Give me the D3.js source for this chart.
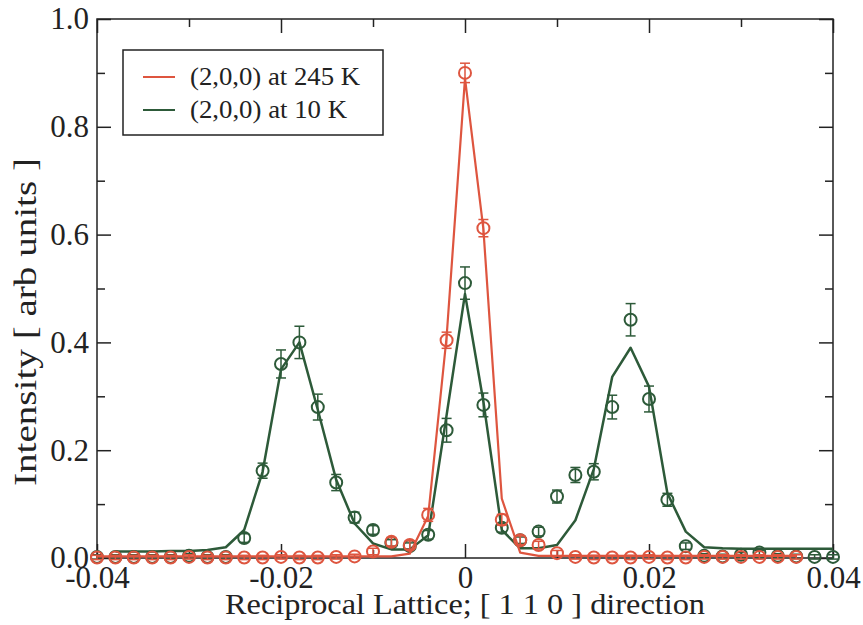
<!DOCTYPE html>
<html>
<head>
<meta charset="utf-8">
<script src="https://cdn.jsdelivr.net/npm/d3@7"></script>
<style>
  body { margin: 0; background: #fff; }
  svg { display: block; }
  text { font-family: "Liberation Serif", "Times New Roman", serif; fill: #222; }
</style>
</head>
<body>
<svg id="chart" width="863" height="625"></svg>
<script>
// Axis ticks and labels
const xMajor = [-0.04, -0.02, 0, 0.02, 0.04];
const xMajorLabels = ["-0.04", "-0.02", "0", "0.02", "0.04"];
const xMinor = [-0.03, -0.01, 0.01, 0.03];
const yMajor = [0, 0.2, 0.4, 0.6, 0.8, 1.0];
const yMajorLabels = ["0.0", "0.2", "0.4", "0.6", "0.8", "1.0"];
const yMinor = [0.1, 0.3, 0.5, 0.7, 0.9];

const seriesNames = ["(2,0,0) at 245 K", "(2,0,0) at 10 K"];
const xTitle = "Reciprocal Lattice; [ 1 1 0 ] direction";
const yTitle = "Intensity [ arb units ]";

// 245 K measured scan
const qHot = [-0.040, -0.038, -0.036, -0.034, -0.032, -0.030, -0.028, -0.026, -0.024, -0.022,
              -0.020, -0.018, -0.016, -0.014, -0.012, -0.010, -0.008, -0.006, -0.004, -0.002,
               0.000,  0.002,  0.004,  0.006,  0.008,  0.010,  0.012,  0.014,  0.016,  0.018,
               0.020,  0.022,  0.024,  0.026,  0.028,  0.030,  0.032,  0.034,  0.036];
const iHot = [0.001, 0.001, 0.001, 0.001, 0.001, 0.002, 0.001, 0.001, 0.001, 0.001,
              0.002, 0.001, 0.001, 0.002, 0.003, 0.012, 0.030, 0.024, 0.080, 0.404,
              0.900, 0.612, 0.071, 0.033, 0.024, 0.009, 0.002, 0.001, 0.001, 0.001,
              0.002, 0.001, 0.001, 0.002, 0.002, 0.002, 0.002, 0.002, 0.002];
const eHot = [0.004, 0.004, 0.004, 0.004, 0.004, 0.004, 0.004, 0.004, 0.004, 0.004,
              0.004, 0.004, 0.004, 0.004, 0.004, 0.006, 0.008, 0.008, 0.012, 0.015,
              0.018, 0.016, 0.010, 0.008, 0.007, 0.005, 0.004, 0.004, 0.004, 0.004,
              0.004, 0.004, 0.004, 0.004, 0.004, 0.004, 0.004, 0.004, 0.004];
// 245 K model curve
const fitHot = [0.003, 0.003, 0.003, 0.003, 0.003, 0.003, 0.003, 0.003, 0.003, 0.003,
                0.003, 0.003, 0.003, 0.003, 0.003, 0.003, 0.003, 0.008, 0.078, 0.410,
                0.890, 0.610, 0.110, 0.010, 0.004, 0.004, 0.004, 0.004, 0.004, 0.004,
                0.004, 0.004, 0.004, 0.004, 0.004, 0.004, 0.004, 0.004, 0.004];

// 10 K measured scan
const qCold = [-0.040, -0.038, -0.036, -0.034, -0.032, -0.030, -0.028, -0.026, -0.024, -0.022,
               -0.020, -0.018, -0.016, -0.014, -0.012, -0.010, -0.008, -0.006, -0.004, -0.002,
                0.000,  0.002,  0.004,  0.006,  0.008,  0.010,  0.012,  0.014,  0.016,  0.018,
                0.020,  0.022,  0.024,  0.026,  0.028,  0.030,  0.032,  0.034,  0.036,  0.038,
                0.040];
const iCold = [0.002, 0.002, 0.002, 0.002, 0.002, 0.004, 0.002, 0.002, 0.037, 0.162,
               0.360, 0.400, 0.280, 0.140, 0.075, 0.052, 0.028, 0.022, 0.043, 0.237,
               0.510, 0.284, 0.056, 0.033, 0.049, 0.114, 0.154, 0.160, 0.280, 0.442,
               0.295, 0.108, 0.022, 0.004, 0.003, 0.006, 0.010, 0.004, 0.003, 0.002,
               0.002];
const eCold = [0.004, 0.004, 0.004, 0.004, 0.004, 0.004, 0.004, 0.004, 0.008, 0.014,
               0.026, 0.030, 0.024, 0.015, 0.010, 0.008, 0.006, 0.006, 0.008, 0.022,
               0.030, 0.022, 0.008, 0.006, 0.008, 0.012, 0.014, 0.015, 0.022, 0.030,
               0.024, 0.012, 0.006, 0.004, 0.004, 0.004, 0.004, 0.004, 0.004, 0.004,
               0.004];
// 10 K model curve
const qFitCold = [-0.038, -0.036, -0.034, -0.032, -0.030, -0.028, -0.026, -0.024, -0.022, -0.020,
                  -0.018, -0.016, -0.014, -0.012, -0.010, -0.008, -0.006, -0.004, -0.002,  0.000,
                   0.002,  0.004,  0.006,  0.008,  0.010,  0.012,  0.014,  0.016,  0.018,  0.020,
                   0.022,  0.024,  0.026,  0.028,  0.030,  0.032,  0.034,  0.036,  0.038,  0.040];
const fitCold = [0.012, 0.012, 0.012, 0.013, 0.013, 0.015, 0.020, 0.052, 0.160, 0.350,
                 0.400, 0.275, 0.145, 0.064, 0.027, 0.016, 0.016, 0.042, 0.265, 0.490,
                 0.290, 0.052, 0.018, 0.018, 0.024, 0.070, 0.165, 0.336, 0.390, 0.318,
                 0.120, 0.049, 0.020, 0.018, 0.017, 0.017, 0.017, 0.017, 0.017, 0.017];

const RED = "#de553f";
const GREEN = "#2d5a39";
const AXIS = "#222";

const svg = d3.select("#chart");
const W = 863, H = 625;
const m = { left: 97, right: W - 833, top: 19, bottom: H - 558 };
const x = d3.scaleLinear().domain([-0.04, 0.04]).range([m.left, W - m.right]);
const y = d3.scaleLinear().domain([0, 1.0]).range([H - m.bottom, m.top]);

svg.append("rect").attr("width", W).attr("height", H).attr("fill", "#fff");

// Ticks on all four sides, pointing inwards
function styleAxis(g) {
  g.select(".domain").remove();
  g.selectAll(".tick line").attr("stroke", AXIS).attr("stroke-width", 1.5);
  g.selectAll(".tick text")
    .style("font-family", '"Liberation Serif", "Times New Roman", serif')
    .style("font-size", "31px").attr("fill", AXIS);
}
const bottom = H - m.bottom, right = W - m.right;

svg.append("g").attr("transform", `translate(0,${bottom})`)
  .call(d3.axisBottom(x).tickValues(xMinor).tickSize(-8).tickFormat(""))
  .call(styleAxis);
svg.append("g").attr("transform", `translate(0,${bottom})`)
  .call(d3.axisBottom(x).tickValues(xMajor).tickSize(-14).tickPadding(8)
        .tickFormat((d, i) => xMajorLabels[i]))
  .call(styleAxis);
svg.append("g").attr("transform", `translate(0,${m.top})`)
  .call(d3.axisTop(x).tickValues(xMinor).tickSize(-8).tickFormat(""))
  .call(styleAxis);
svg.append("g").attr("transform", `translate(0,${m.top})`)
  .call(d3.axisTop(x).tickValues(xMajor).tickSize(-14).tickFormat(""))
  .call(styleAxis);

svg.append("g").attr("transform", `translate(${m.left},0)`)
  .call(d3.axisLeft(y).tickValues(yMinor).tickSize(-8).tickFormat(""))
  .call(styleAxis);
svg.append("g").attr("transform", `translate(${m.left},0)`)
  .call(d3.axisLeft(y).tickValues(yMajor).tickSize(-14).tickPadding(8)
        .tickFormat((d, i) => yMajorLabels[i]))
  .call(styleAxis);
svg.append("g").attr("transform", `translate(${right},0)`)
  .call(d3.axisRight(y).tickValues(yMinor).tickSize(-8).tickFormat(""))
  .call(styleAxis);
svg.append("g").attr("transform", `translate(${right},0)`)
  .call(d3.axisRight(y).tickValues(yMajor).tickSize(-14).tickFormat(""))
  .call(styleAxis);

// Plot frame
svg.append("rect")
  .attr("x", m.left).attr("y", m.top)
  .attr("width", right - m.left).attr("height", bottom - m.top)
  .attr("fill", "none").attr("stroke", AXIS).attr("stroke-width", 1.5);

// Axis titles
svg.append("text").attr("x", (m.left + right) / 2).attr("y", 614)
  .attr("text-anchor", "middle").style("font-size", "29px")
  .attr("textLength", 480).attr("lengthAdjust", "spacingAndGlyphs").text(xTitle);
svg.append("text").attr("transform", "translate(36,322) rotate(-90)")
  .attr("text-anchor", "middle").style("font-size", "31px")
  .attr("textLength", 328).attr("lengthAdjust", "spacingAndGlyphs").text(yTitle);

const line = d3.line().x(d => x(d[0])).y(d => y(d[1]));

function drawSeries(qs, is, es, qFit, fit, color, lw) {
  const g = svg.append("g");
  g.append("path").datum(qFit.map((q, i) => [q, fit[i]]))
    .attr("d", line).attr("fill", "none").attr("stroke", color)
    .attr("stroke-width", lw).attr("stroke-linejoin", "round");
  const pts = qs.map((q, i) => ({ q, v: is[i], e: es[i] }));
  const eb = g.append("g").attr("stroke", color).attr("stroke-width", 1.5);
  eb.selectAll("line.v").data(pts).join("line").attr("class", "v")
    .attr("x1", d => x(d.q)).attr("x2", d => x(d.q))
    .attr("y1", d => y(d.v + d.e)).attr("y2", d => y(d.v - d.e));
  eb.selectAll("line.t").data(pts).join("line").attr("class", "t")
    .attr("x1", d => x(d.q) - 5).attr("x2", d => x(d.q) + 5)
    .attr("y1", d => y(d.v + d.e)).attr("y2", d => y(d.v + d.e));
  eb.selectAll("line.b").data(pts).join("line").attr("class", "b")
    .attr("x1", d => x(d.q) - 5).attr("x2", d => x(d.q) + 5)
    .attr("y1", d => y(d.v - d.e)).attr("y2", d => y(d.v - d.e));
  g.selectAll("circle").data(pts).join("circle")
    .attr("cx", d => x(d.q)).attr("cy", d => y(d.v)).attr("r", 6)
    .attr("fill", "none").attr("stroke", color).attr("stroke-width", 2);
}

drawSeries(qCold, iCold, eCold, qFitCold, fitCold, GREEN, 2.5);
drawSeries(qHot, iHot, eHot, qHot, fitHot, RED, 2.2);

// Legend
const lg = svg.append("g");
lg.append("rect").attr("x", 123).attr("y", 50).attr("width", 260).attr("height", 85)
  .attr("fill", "#fff").attr("stroke", AXIS).attr("stroke-width", 1.5);
const legendWidths = [170, 157];
[RED, GREEN].forEach((c, i) => {
  const yy = 77 + i * 33;
  lg.append("line").attr("x1", 143).attr("x2", 175).attr("y1", yy).attr("y2", yy)
    .attr("stroke", c).attr("stroke-width", 2);
  lg.append("text").attr("x", 190).attr("y", yy + 8).style("font-size", "25px")
    .attr("textLength", legendWidths[i]).attr("lengthAdjust", "spacingAndGlyphs")
    .text(seriesNames[i]);
});
</script>
</body>
</html>
